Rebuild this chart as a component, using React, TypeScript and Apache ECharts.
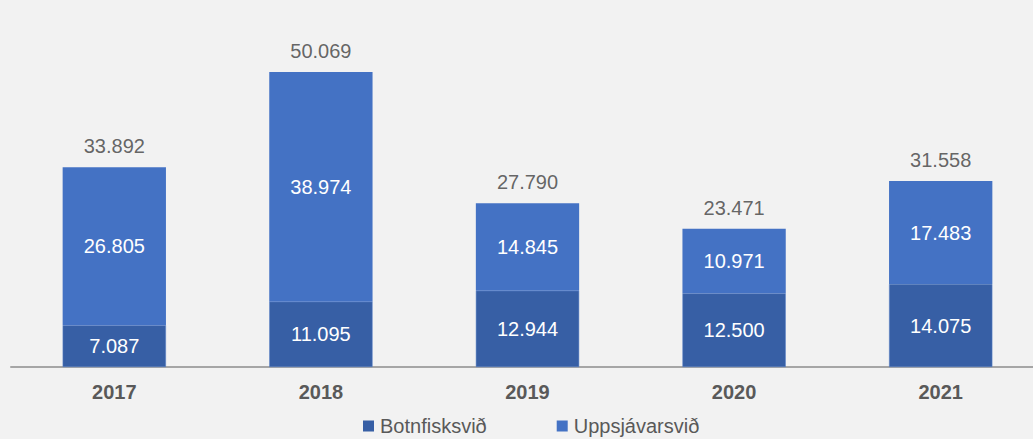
import React, { useEffect, useRef } from "react";
import * as echarts from "echarts";

const categories = ["2017", "2018", "2019", "2020", "2021"];
const botnfisk = [7087, 11095, 12944, 12500, 14075];
const uppsjavar = [26805, 38974, 14845, 10971, 17483];
const totals = [33892, 50069, 27790, 23471, 31558];

const fmt = (n: number) => {
  const th = Math.floor(n / 1000);
  const r = n % 1000;
  return th > 0 ? th + "." + String(r).padStart(3, "0") : String(r);
};

export default function App() {
  const ref = useRef<HTMLDivElement>(null);
  useEffect(() => {
    const chart = echarts.init(ref.current!, null, { renderer: "svg" });
    const font = "'Liberation Sans', Arial, sans-serif";
    chart.setOption({
      animation: false,
      backgroundColor: "#f2f2f2",
      grid: { left: 11, right: 0, top: 13.5, bottom: 72 },
      legend: {
        left: 358,
        top: 411,
        icon: "rect",
        itemWidth: 11,
        itemHeight: 11,
        itemGap: 70,
        itemStyle: { borderWidth: 0 },
        textStyle: { color: "#595959", fontSize: 20, fontFamily: font, padding: [0, 0, 0, 1] },
        data: ["Botnfisksvið", "Uppsjávarsvið"],
      },
      xAxis: {
        type: "category",
        data: categories,
        axisLine: { lineStyle: { color: "#a6a6a6", width: 2 } },
        axisTick: { show: false },
        axisLabel: {
          color: "#595959",
          fontSize: 20,
          fontWeight: "bold",
          fontFamily: font,
          margin: 15,
        },
      },
      yAxis: {
        type: "value",
        min: 0,
        max: 60000,
        show: false,
        splitLine: { show: false },
      },
      series: [
        {
          name: "Botnfisksvið",
          type: "bar",
          stack: "a",
          barWidth: "50%",
          data: botnfisk,
          itemStyle: { color: "#375fa5", borderColor: "#5a82c8", borderWidth: 0.5 },
          label: {
            show: true,
            position: "inside",
            color: "#ffffff",
            fontSize: 20,
            fontFamily: font,
            formatter: (p: any) => fmt(p.value),
          },
        },
        {
          name: "Uppsjávarsvið",
          type: "bar",
          stack: "a",
          data: uppsjavar,
          itemStyle: { color: "#4472c4" },
          label: {
            show: true,
            position: "inside",
            color: "#ffffff",
            fontSize: 20,
            fontFamily: font,
            formatter: (p: any) => fmt(p.value),
          },
        },
        {
          name: "Total",
          type: "scatter",
          data: totals,
          symbolSize: 0,
          silent: true,
          label: {
            show: true,
            position: "top",
            distance: 11,
            color: "#404040",
            fontSize: 20,
            fontFamily: font,
            formatter: (p: any) => fmt(p.value),
          },
        },
      ],
    });
    return () => chart.dispose();
  }, []);
  return (
    <div
      style={{ position: "fixed", left: 0, top: 0, width: 1033, height: 439, overflow: "hidden" }}
    >
      <div ref={ref} style={{ width: 1044, height: 439 }} />
    </div>
  );
}
